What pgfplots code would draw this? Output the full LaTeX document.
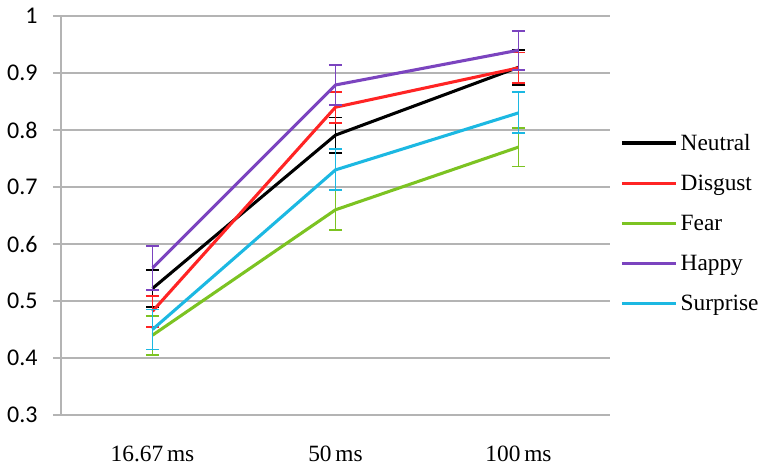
\documentclass[border=0pt]{standalone}
\usepackage{pgfplots}
\pgfplotsset{compat=1.18}
\usepackage{fontspec}
\setmainfont{Liberation Serif}
\newfontfamily\carlito{Carlito}

\definecolor{cNeutral}{HTML}{000000}
\definecolor{cDisgust}{HTML}{FF2424}
\definecolor{cFear}{HTML}{7CC322}
\definecolor{cHappy}{HTML}{7B44BF}
\definecolor{cSurprise}{HTML}{1CB8E2}
\definecolor{gridgray}{HTML}{B4B4B4}

\pgfplotsset{
    errline/.style={line width=2.3pt, mark=none,
        error bars/y dir=both, error bars/y explicit,
        error bars/error bar style={line width=1.4pt},
        error bars/error mark options={rotate=90, mark size=5pt, line width=1.4pt}},
}

\begin{document}
\begin{tikzpicture}
\begin{axis}[
    scale only axis,
    width=411.75pt, height=299.25pt,
    xmin=-0.5, xmax=2.5, ymin=0.3, ymax=1,
    axis x line*=bottom, axis y line*=left,
    axis line style={gridgray, line width=1.1pt},
    xtick={0,1,2},
    xticklabels={16.67\,ms, 50\,ms, 100\,ms},
    xticklabel style={font=\rmfamily\fontsize{17.5}{19}\selectfont, yshift=-14pt},
    major x tick style={draw=none},
    extra x ticks={-0.5,0.5,1.5,2.5},
    extra x tick labels={},
    extra x tick style={tick align=outside, major tick length=6pt,
        tick style={gridgray, line width=1.1pt}, grid=none},
    ytick={0.3,0.4,...,1.01},
    yticklabel style={font=\carlito\fontsize{18}{20}\selectfont, xshift=-8pt},
    /pgf/number format/assume math mode=true,
    tick align=outside, major tick length=6pt,
    tick style={gridgray, line width=1.1pt},
    ymajorgrids,
    grid style={gridgray, line width=1.1pt},
    clip=false,
    legend style={at={(1,0.481)}, anchor=west, xshift=7.5pt,
        draw=none, fill=none, font=\rmfamily\fontsize{17.5}{19}\selectfont,
        row sep=13pt, inner sep=0pt},
    legend cell align=left,
    legend image code/.code={\draw[#1, line width=2.3pt] (0pt,0pt) -- (41pt,0pt);},
]
\addplot[cNeutral, errline] coordinates {
    (0,0.522) +- (0,0.032)
    (1,0.791) +- (0,0.031)
    (2,0.910) +- (0,0.031)
};
\addlegendentry{Neutral}
\addplot[cDisgust, errline] coordinates {
    (0,0.482) +- (0,0.027)
    (1,0.840) +- (0,0.027)
    (2,0.909) +- (0,0.027)
};
\addlegendentry{Disgust}
\addplot[cFear, errline] coordinates {
    (0,0.440) +- (0,0.034)
    (1,0.660) +- (0,0.035)
    (2,0.770) +- (0,0.034)
};
\addlegendentry{Fear}
\addplot[cHappy, errline] coordinates {
    (0,0.558) +- (0,0.038)
    (1,0.879) +- (0,0.035)
    (2,0.940) +- (0,0.034)
};
\addlegendentry{Happy}
\addplot[cSurprise, errline] coordinates {
    (0,0.450) +- (0,0.035)
    (1,0.730) +- (0,0.036)
    (2,0.830) +- (0,0.036)
};
\addlegendentry{Surprise}
\end{axis}
\pgfresetboundingbox
\path ([xshift=-45.75pt,yshift=-38.25pt]current axis.south west)
    rectangle ([xshift=120pt,yshift=12pt]current axis.north east);
\end{tikzpicture}
\end{document}
